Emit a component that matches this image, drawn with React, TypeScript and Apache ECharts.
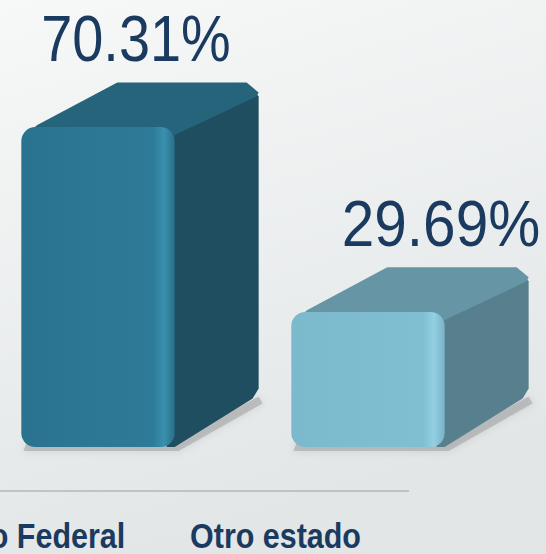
import React, { useEffect, useRef } from "react";
import * as echarts from "echarts";

const categories = ["Distrito Federal", "Otro estado"];
const values = [70.31, 29.69];
const valueLabels = ["70.31%", "29.69%"];

const FRONT = [
  ["#2a7390", "#2d7b98", "#3a90ae", "#2a6f8a"],
  ["#7cb9cd", "#80bed2", "#93d0e2", "#78b2c6"],
];
const TOP = ["#25647b", "#6696a6"];
const SIDE = ["#1f4e60", "#587f8d"];
const LABEL_DX = [-4, 31];
const LABEL_SX = [0.86, 0.9];
const CAT_DX = [10, 2];
const LIFT = 44;
const FONT = "'Liberation Sans', Arial, sans-serif";

export default function App() {
  const ref = useRef<HTMLDivElement>(null);
  useEffect(() => {
    const chart = echarts.init(ref.current!, null, { renderer: "svg" });
    chart.setOption({
      animation: false,
      backgroundColor: {
        type: "linear", x: 0, y: 0, x2: 0.3, y2: 1,
        colorStops: [
          { offset: 0, color: "#f7f8f8" },
          { offset: 1, color: "#e2e6e7" },
        ],
      },
      grid: {
        left: -131.5, width: 540, top: 127, height: 364,
        containLabel: false, outerBoundsMode: "none",
      },
      xAxis: {
        type: "category",
        data: categories,
        axisLine: { show: true, lineStyle: { color: "#b4b6b8", width: 1.5 } },
        axisTick: { show: false },
        axisLabel: { show: false },
      },
      yAxis: { type: "value", min: 0, max: 80, interval: 10, show: false },
      series: [
        {
          type: "custom",
          clip: false,
          data: values.map((v, i) => [i, v]),
          renderItem: (params: any, api: any) => {
            const i = api.value(0);
            const v = api.value(1);
            const top = api.coord([i, v]);
            const base = api.coord([i, 0]);
            const band = api.size([1, 0])[0];
            const cx = base[0];
            const x0 = cx + band * 0.066;
            const w = band * 0.568;
            const dx = band * 0.311;
            const dy = band * 0.165;
            const yT = top[1] - LIFT;
            const yB = base[1] - LIFT;
            const f = FRONT[i];
            return {
              type: "group",
              children: [
                {
                  type: "polygon",
                  shape: {
                    points: [
                      [x0 + 6, yB - 6],
                      [x0 + w, yB - 6],
                      [x0 + w + dx, yB - dy - 6],
                      [x0 + w + dx + 4, yB - dy + 1],
                      [x0 + w + 4, yB + 4],
                      [x0 + 2, yB + 4],
                    ],
                  },
                  style: {
                    fill: "rgba(120,120,120,0.35)",
                    shadowBlur: 8,
                    shadowColor: "rgba(0,0,0,0.3)",
                  },
                },
                {
                  type: "polygon",
                  shape: {
                    points: [
                      [x0 + w - 8, yT + 4],
                      [x0 + w + dx - 8, yT - dy + 4],
                      [x0 + w + dx, yT - dy + 14],
                      [x0 + w + dx, yB - dy - 14],
                      [x0 + w + dx - 6, yB - dy - 4],
                      [x0 + w, yB],
                      [x0 + w - 8, yB],
                    ],
                  },
                  style: { fill: SIDE[i] },
                },
                {
                  type: "polygon",
                  shape: {
                    points: [
                      [x0 + 6, yT + 6],
                      [x0 + 16, yT - 2],
                      [x0 + dx + 12, yT - dy],
                      [x0 + w + dx - 12, yT - dy],
                      [x0 + w + dx, yT - dy + 10],
                      [x0 + w + dx - 2, yT - dy + 14],
                      [x0 + w, yT + 8],
                    ],
                  },
                  style: { fill: TOP[i] },
                },
                {
                  type: "rect",
                  shape: { x: x0, y: yT, width: w, height: yB - yT, r: 14 },
                  style: {
                    fill: {
                      type: "linear", x: 0, y: 0, x2: 1, y2: 0,
                      colorStops: [
                        { offset: 0, color: f[0] },
                        { offset: 0.86, color: f[1] },
                        { offset: 0.93, color: f[2] },
                        { offset: 1, color: f[3] },
                      ],
                    },
                  },
                },
                {
                  type: "text",
                  x: x0 + (w + dx) / 2 + LABEL_DX[i],
                  y: yT - dy - 44,
                  scaleX: LABEL_SX[i],
                  style: {
                    text: valueLabels[i],
                    x: 0,
                    y: 0,
                    align: "center",
                    verticalAlign: "middle",
                    fill: "#1b3a5f",
                    fontSize: 65,
                    fontFamily: FONT,
                  },
                },
                {
                  type: "text",
                  x: cx + CAT_DX[i],
                  y: base[1] + 45,
                  scaleX: 0.87,
                  style: {
                    text: categories[i],
                    x: 0,
                    y: 0,
                    align: "center",
                    verticalAlign: "middle",
                    fill: "#1b3a5f",
                    fontSize: 35,
                    fontWeight: "bold",
                    fontFamily: FONT,
                  },
                },
              ],
            };
          },
        },
      ],
    });
    return () => chart.dispose();
  }, []);
  return (
    <div
      ref={ref}
      style={{ position: "fixed", left: 0, top: 0, width: 546, height: 554 }}
    />
  );
}
